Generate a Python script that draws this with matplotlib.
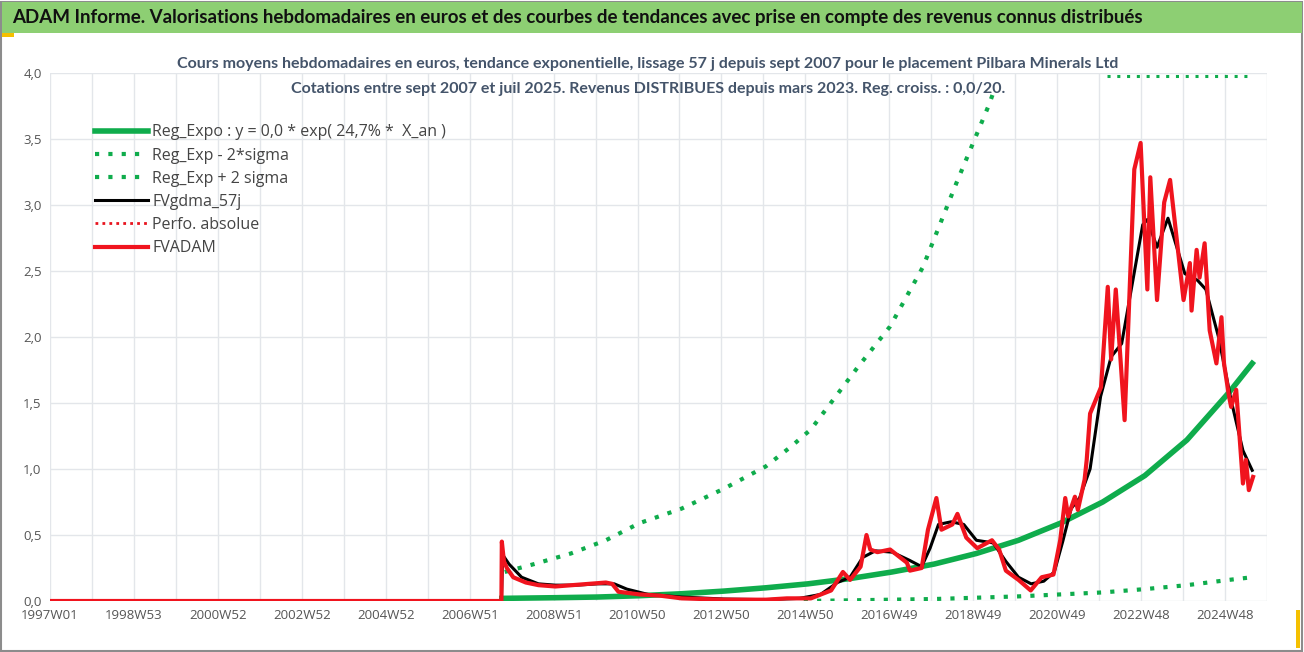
import matplotlib
matplotlib.use("Agg")
import matplotlib.pyplot as plt
from matplotlib.patches import Rectangle
from matplotlib.ticker import FuncFormatter, MultipleLocator

# ---- data (x in decimal years) ----
tick_labels = ["1997W01","1998W53","2000W52","2002W52","2004W52","2006W51","2008W51",
               "2010W50","2012W50","2014W50","2016W49","2018W49","2020W49","2022W48","2024W48"]
fv_t = [1997.0, 2007.72, 2007.73, 2007.78, 2007.85, 2008.0, 2008.3, 2008.6, 2009.0, 2009.4, 2009.8,
        2010.2, 2010.35, 2010.5, 2011.0, 2011.5, 2012.0, 2012.5, 2013.0, 2013.5, 2014.0, 2014.5,
        2015.07, 2015.55, 2015.83, 2016.0, 2016.25, 2016.39, 2016.48, 2016.65, 2016.95, 2017.35,
        2017.42, 2017.7, 2017.85, 2018.05, 2018.17, 2018.43, 2018.55, 2018.76, 2019.02, 2019.37,
        2019.54, 2019.7, 2020.0, 2020.29, 2020.55, 2020.83, 2020.99, 2021.11, 2021.18, 2021.34,
        2021.41, 2021.57, 2021.62, 2021.7, 2021.96, 2022.12, 2022.2, 2022.31, 2022.52, 2022.75,
        2022.9, 2023.06, 2023.13, 2023.29, 2023.46, 2023.6, 2023.92, 2024.07, 2024.11, 2024.23,
        2024.3, 2024.42, 2024.54, 2024.7, 2024.82, 2024.88, 2025.0, 2025.05, 2025.17, 2025.33,
        2025.4, 2025.47, 2025.57]
fv_v = [0.0, 0.0, 0.45, 0.30, 0.25, 0.18, 0.14, 0.12, 0.11, 0.12, 0.13,
        0.14, 0.13, 0.07, 0.05, 0.04, 0.02, 0.015, 0.01, 0.01, 0.01, 0.02,
        0.02, 0.08, 0.22, 0.16, 0.26, 0.50, 0.39, 0.37, 0.39, 0.29,
        0.23, 0.25, 0.54, 0.78, 0.54, 0.58, 0.66, 0.48, 0.40, 0.46,
        0.39, 0.23, 0.16, 0.08, 0.18, 0.20, 0.46, 0.78, 0.64, 0.79,
        0.69, 0.92, 1.07, 1.42, 1.62, 2.38, 1.83, 2.36, 1.37, 3.27,
        3.47, 2.36, 3.21, 2.28, 3.02, 3.19, 2.28, 2.56, 2.20, 2.66,
        2.45, 2.71, 2.05, 1.80, 2.15, 1.80, 1.55, 1.47, 1.60, 0.89,
        1.07, 0.84, 0.94]
ma_t = [1997.0, 2007.72, 2007.75, 2007.9, 2008.2, 2008.6, 2009.0, 2009.5, 2010.0, 2010.4, 2010.7,
        2011.2, 2012.0, 2013.0, 2014.0, 2014.8, 2015.3, 2015.7, 2016.0, 2016.3, 2016.6, 2017.0,
        2017.4, 2017.7, 2017.9, 2018.1, 2018.4, 2018.7, 2019.0, 2019.4, 2019.7, 2020.0, 2020.3,
        2020.6, 2020.85, 2021.05, 2021.25, 2021.45, 2021.7, 2021.95, 2022.2, 2022.45, 2022.7,
        2022.95, 2023.06, 2023.29, 2023.55, 2023.95, 2024.25, 2024.45, 2024.75, 2025.05, 2025.33, 2025.55]
ma_v = [0.0, 0.0, 0.35, 0.28, 0.18, 0.13, 0.12, 0.12, 0.13, 0.13, 0.09,
        0.05, 0.03, 0.015, 0.01, 0.02, 0.05, 0.14, 0.18, 0.33, 0.38, 0.37,
        0.31, 0.26, 0.40, 0.58, 0.60, 0.58, 0.46, 0.44, 0.30, 0.18, 0.13,
        0.15, 0.22, 0.45, 0.70, 0.78, 1.00, 1.55, 1.85, 1.95, 2.40,
        2.85, 2.89, 2.68, 2.90, 2.48, 2.43, 2.36, 2.00, 1.52, 1.14, 0.99]
reg_t = [2007.73, 2009.0, 2010.0, 2011.0, 2012.0, 2013.0, 2014.0, 2015.0, 2016.0, 2017.0,
         2018.0, 2019.0, 2020.0, 2021.0, 2022.0, 2023.0, 2024.0, 2025.0, 2025.55]
reg_v = [0.02, 0.025, 0.03, 0.04, 0.055, 0.075, 0.10, 0.13, 0.17, 0.22,
         0.28, 0.36, 0.46, 0.59, 0.75, 0.95, 1.22, 1.58, 1.80]
up_t = [2007.8, 2008.5, 2009.37, 2010.2, 2011.0, 2012.0, 2013.0, 2014.0, 2014.6, 2015.07,
        2016.18, 2016.95, 2017.73, 2018.53, 2019.3, 2019.4]
up_v = [0.22, 0.28, 0.36, 0.46, 0.59, 0.70, 0.85, 1.02, 1.17, 1.30,
        1.77, 2.08, 2.53, 3.17, 3.76, 3.85]
cap_t = [2022.1, 2025.55]
cap_v = [3.98, 3.98]
lo_t = [2014.9, 2016.0, 2017.0, 2018.0, 2019.0, 2020.0, 2021.0, 2022.0, 2023.0, 2024.0, 2025.0, 2025.55]
lo_v = [0.0, 0.005, 0.01, 0.015, 0.025, 0.035, 0.05, 0.065, 0.09, 0.12, 0.16, 0.18]

W, H = 1304, 652
fig = plt.figure(figsize=(W/100, H/100), dpi=100)
fig.patch.set_facecolor("white")
plt.rcParams['font.family'] = ['Open Sans', 'DejaVu Sans']

fig.add_artist(Rectangle((1/W, 1/H), 1-3/W, 1-3/H, transform=fig.transFigure,
                         fill=False, ec="#8c8c8c", lw=1.5))
fig.add_artist(Rectangle((2/W, 1-33/H), 1-4/W, 31/H, transform=fig.transFigure,
                         fc="#8dcf73", ec="none"))
fig.text(12/W, 1-18/H, "ADAM Informe. Valorisations hebdomadaires en euros et des courbes de tendances avec prise en compte des revenus connus distribués",
         fontsize=13.5, fontweight="bold", color="#111111", va="center", ha="left",
         family=['Lato', 'DejaVu Sans'])
fig.add_artist(Rectangle((2/W, 1-37/H), 12/W, 4/H, transform=fig.transFigure, fc="#f5c000", ec="none"))
fig.add_artist(Rectangle(((W-8)/W, 4/H), 4/W, 38/H, transform=fig.transFigure, fc="#f5c000", ec="none"))

ax = fig.add_axes([50/W, 1-601/H, (1267-50)/W, (601-73)/H])
ax.set_xlim(1997.0, 2025.6)
ax.set_ylim(0, 4.0)
for s in ax.spines.values():
    s.set_visible(False)
ax.yaxis.set_major_locator(MultipleLocator(0.5))
ax.yaxis.set_major_formatter(FuncFormatter(lambda v, p: f"{v:.1f}".replace(".", ",")))
tick_pos = [1997.0 + 2*i*0.9966 for i in range(len(tick_labels))]
ax.set_xticks(tick_pos)
ax.set_xticklabels(tick_labels)
ax.set_xticks([p + 0.9966 for p in tick_pos], minor=True)
ax.grid(True, which="both", color="#e3e6ea", lw=1)
ax.tick_params(which="both", length=0, colors="#555555", labelsize=9.5, pad=6)
ax.set_axisbelow(True)

green = "#0fac4c"
ax.plot(up_t, up_v, ls=(0, (1, 2.2)), lw=3, color=green, label="Reg_Exp - 2*sigma")
ax.plot(cap_t, cap_v, ls=(0, (1, 2.2)), lw=2.2, color=green)
ax.plot(lo_t, lo_v, ls=(0, (1, 2.2)), lw=3, color=green, label="Reg_Exp + 2 sigma")
ax.plot(reg_t, reg_v, lw=4, color=green, label="Reg_Expo : y = 0,0 * exp( 24,7% *  X_an )")
ax.plot(ma_t, ma_v, lw=2.2, color="black", label="FVgdma_57j")
ax.plot([], [], ls=(0, (1, 1.5)), lw=2, color="#e8141e", label="Perfo. absolue")
ax.plot(fv_t, fv_v, lw=3, color="#f0141e", label="FVADAM", zorder=3)

h, l = ax.get_legend_handles_labels()
order = [2, 0, 1, 3, 4, 5]
ax.legend([h[i] for i in order], [l[i] for i in order], loc="upper left",
          bbox_to_anchor=(0.025, 0.93), frameon=False, fontsize=11.5, handlelength=3.3,
          labelspacing=0.45, handletextpad=0.3, labelcolor="#444444")

fig.text(648/W, 1-64/H, "Cours moyens hebdomadaires en euros, tendance exponentielle, lissage 57 j depuis sept 2007 pour le placement Pilbara Minerals Ltd",
         ha="center", va="center", fontsize=11.5, fontweight="bold", color="#44546a",
         family=['Lato', 'DejaVu Sans'])
fig.text(648/W, 1-89/H, "Cotations entre sept 2007 et juil 2025. Revenus DISTRIBUES depuis mars 2023. Reg. croiss. : 0,0/20.",
         ha="center", va="center", fontsize=11.5, fontweight="bold", color="#44546a",
         family=['Lato', 'DejaVu Sans'])

fig.savefig("out.png", dpi=100)
